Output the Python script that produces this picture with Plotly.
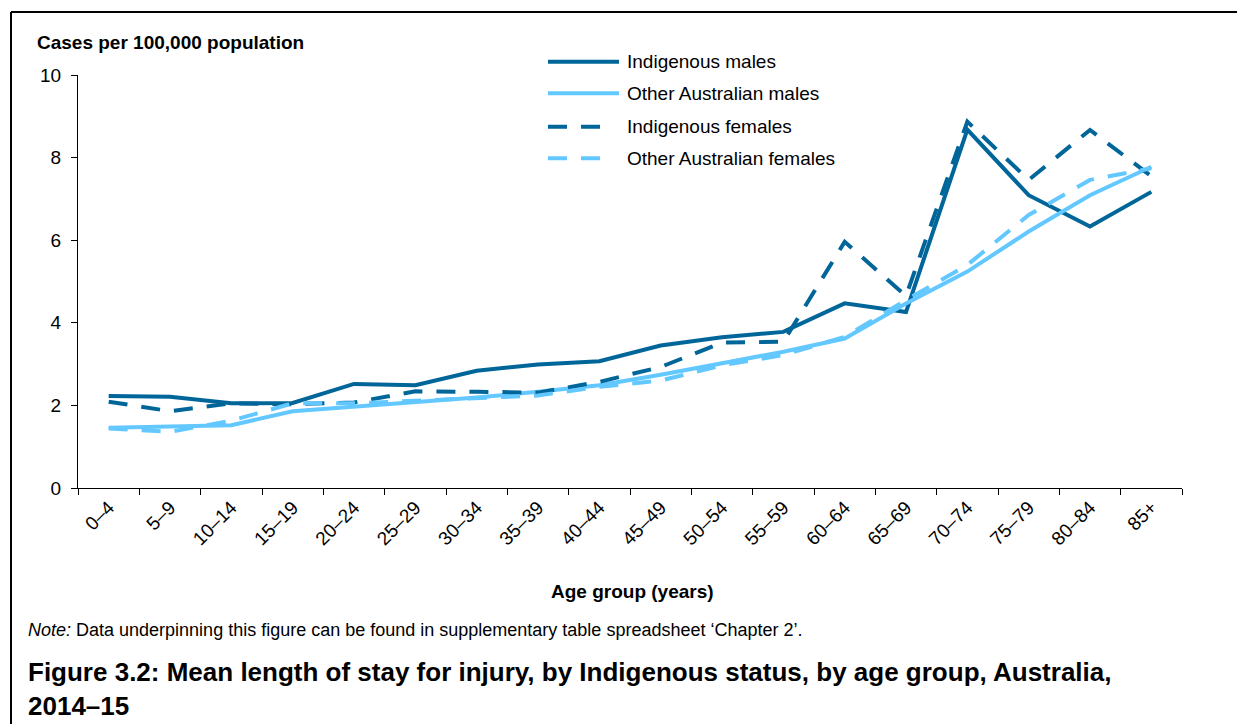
import plotly.graph_objects as go

# age groups and mean values
age_groups = ["0–4", "5–9", "10–14", "15–19", "20–24", "25–29", "30–34", "35–39", "40–44",
              "45–49", "50–54", "55–59", "60–64", "65–69", "70–74", "75–79", "80–84", "85+"]
indigenous_males = [2.23, 2.21, 2.05, 2.06, 2.52, 2.49, 2.84, 2.99, 3.07,
                    3.45, 3.65, 3.78, 4.47, 4.26, 8.68, 7.09, 6.33, 7.17]
other_males = [1.46, 1.48, 1.52, 1.86, 1.97, 2.09, 2.19, 2.33, 2.49,
               2.74, 3.02, 3.30, 3.62, 4.47, 5.24, 6.21, 7.09, 7.78]
indigenous_females = [2.09, 1.86, 2.05, 2.03, 2.07, 2.34, 2.33, 2.31, 2.57,
                      2.93, 3.52, 3.54, 5.96, 4.65, 8.87, 7.46, 8.67, 7.55]
other_females = [1.44, 1.36, 1.63, 2.05, 2.05, 2.11, 2.18, 2.24, 2.45,
                 2.60, 2.97, 3.22, 3.66, 4.55, 5.40, 6.61, 7.46, 7.74]

series_names = ["Indigenous males", "Other Australian males",
                "Indigenous females", "Other Australian females"]

DARK = "#006699"
LIGHT = "#63C8FF"
FONT = "Liberation Sans, Arial, sans-serif"
DASH_ON, DASH_OFF = 19, 14
DASH = f"{DASH_ON}px,{DASH_OFF}px"

W, H = 1237, 724
# plot area in pixels
L, R, T, B = 78, 1182, 75, 488


def px(x):
    return (x - L) / (R - L)


def py(y):
    return (B - y) / (B - T)


styles = [(DARK, "solid"), (LIGHT, "solid"), (DARK, DASH), (LIGHT, DASH)]
values = [indigenous_males, other_males, indigenous_females, other_females]

fig = go.Figure()
for name, vals, (col, dash) in zip(series_names, values, styles):
    fig.add_trace(go.Scatter(x=age_groups, y=vals, mode="lines", name=name,
                             line=dict(color=col, width=4, dash=dash)))

shapes = []
annotations = []

# hand-made legend (longer line samples than plotly's own)
legend_rows = [61.7, 93.3, 126.7, 158.3]
for name, (col, dash), ry in zip(series_names, styles, legend_rows):
    x_end = 619 if dash == "solid" else 548 + 2 * DASH_ON + DASH_OFF
    shapes.append(dict(type="line", xref="paper", yref="paper",
                       x0=px(548), x1=px(x_end), y0=py(ry), y1=py(ry),
                       line=dict(color=col, width=4, dash=dash)))
    annotations.append(dict(text=name, xref="paper", yref="paper", x=px(625), y=py(ry),
                            xanchor="left", yanchor="middle", showarrow=False,
                            font=dict(size=19, color="black", family=FONT)))

# frame round the figure: only its top and left edges show
shapes.append(dict(type="line", xref="paper", yref="paper",
                   x0=px(11), x1=px(1300), y0=py(12), y1=py(12),
                   line=dict(color="black", width=2)))
shapes.append(dict(type="line", xref="paper", yref="paper",
                   x0=px(11), x1=px(11), y0=py(12), y1=py(800),
                   line=dict(color="black", width=2)))

annotations += [
    dict(text="<b>Cases per 100,000 population</b>", xref="paper", yref="paper",
         x=px(35), y=py(42), xanchor="left", yanchor="middle", showarrow=False,
         font=dict(size=19, color="black", family=FONT)),
    dict(text="<b>Age group (years)</b>", xref="paper", yref="paper",
         x=px(632), y=py(591), xanchor="center", yanchor="middle", showarrow=False,
         font=dict(size=19, color="black", family=FONT)),
    dict(text="<i>Note:</i> Data underpinning this figure can be found in supplementary table spreadsheet ‘Chapter 2’.",
         xref="paper", yref="paper", x=px(26), y=py(630), xanchor="left", yanchor="middle",
         showarrow=False, font=dict(size=18, color="black", family=FONT)),
    dict(text="<b>Figure 3.2: Mean length of stay for injury, by Indigenous status, by age group, Australia,<br>2014–15</b>",
         xref="paper", yref="paper", x=px(26), y=py(689), xanchor="left", yanchor="middle",
         align="left", showarrow=False, font=dict(size=26, color="black", family=FONT)),
]

fig.update_layout(
    width=W, height=H,
    margin=dict(l=L, r=W - R, t=T, b=H - B),
    paper_bgcolor="white", plot_bgcolor="white",
    showlegend=False,
    font=dict(family=FONT, size=19, color="black"),
    shapes=shapes,
    annotations=annotations,
)
fig.update_xaxes(type="category", range=[-0.5, len(age_groups) - 0.5],
                 showline=True, linecolor="black", linewidth=1,
                 ticks="outside", tickson="boundaries", ticklen=6, tickcolor="black",
                 tickangle=-45, tickfont=dict(size=19), showgrid=False, zeroline=False)
fig.update_yaxes(range=[0, 10], dtick=2, showline=True, linecolor="black", linewidth=1,
                 ticks="outside", ticklen=6, tickcolor="black", tickfont=dict(size=19),
                 showgrid=False, zeroline=False, ticklabelstandoff=6)

# drop the page's default body margin so the figure sits at the window corner
fig.write_html("out.html", config={"displayModeBar": False},
               post_script="document.body.style.margin='0';document.body.style.overflow='hidden';")
